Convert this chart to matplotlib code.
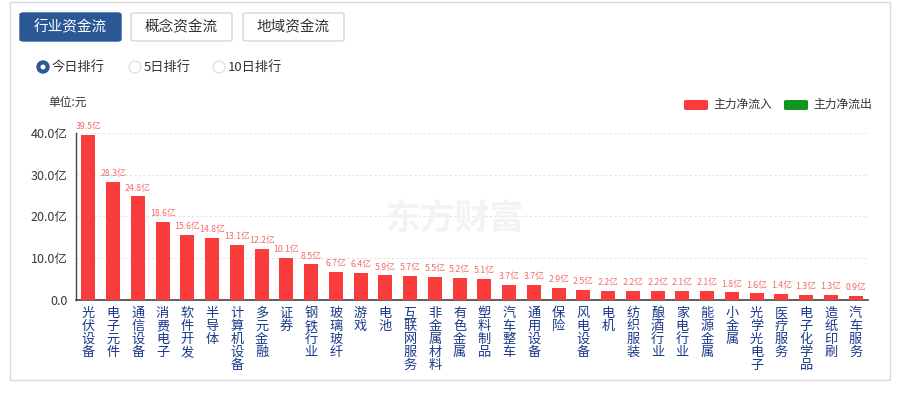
import matplotlib.pyplot as plt
from matplotlib.patches import FancyBboxPatch, Ellipse, Rectangle

plt.rcParams['font.family'] = ['Noto Sans CJK SC', 'DejaVu Sans']

industries = ['光伏设备', '电子元件', '通信设备', '消费电子', '软件开发', '半导体', '计算机设备',
              '多元金融', '证券', '钢铁行业', '玻璃玻纤', '游戏', '电池', '互联网服务',
              '非金属材料', '有色金属', '塑料制品', '汽车整车', '通用设备', '保险', '风电设备',
              '电机', '纺织服装', '酿酒行业', '家电行业', '能源金属', '小金属', '光学光电子',
              '医疗服务', '电子化学品', '造纸印刷', '汽车服务']
inflow = [39.5, 28.3, 24.8, 18.6, 15.6, 14.8, 13.1, 12.2, 10.1, 8.5, 6.7, 6.4, 5.9, 5.7,
          5.5, 5.2, 5.1, 3.7, 3.7, 2.9, 2.5, 2.2, 2.2, 2.2, 2.1, 2.1, 1.8, 1.6, 1.4, 1.3,
          1.3, 0.9]
yticks = [0, 10, 20, 30, 40]
ytick_labels = ['0.0', '10.0亿', '20.0亿', '30.0亿', '40.0亿']
tabs = ['行业资金流', '概念资金流', '地域资金流']
ranks = ['今日排行', '5日排行', '10日排行']

W, H = 912, 399
RED = '#fa3c3c'
GREEN = '#0f961e'


def fx(px):
    return px / W


def fy(py):
    return 1 - py / H


fig = plt.figure(figsize=(W / 100, H / 100), dpi=100)
fig.patch.set_facecolor('white')

# card border
fig.add_artist(Rectangle((fx(10), fy(380)), fx(880), 378 / H, transform=fig.transFigure,
                         fill=False, edgecolor='#d9d9d9', lw=1))

# tab buttons
tab_x = [20, 131, 243]
for i, (t, x0) in enumerate(zip(tabs, tab_x)):
    active = i == 0
    fig.add_artist(FancyBboxPatch((fx(x0), fy(41)), fx(101), 28 / H,
                                  boxstyle='round,pad=0,rounding_size=0.004',
                                  transform=fig.transFigure,
                                  facecolor='#2b5797' if active else 'white',
                                  edgecolor='#2b5797' if active else '#cfd6e0', lw=1))
    fig.text(fx(x0 + 50.5), fy(27), t, ha='center', va='center', fontsize=10.5,
             color='white' if active else '#333333')

# radio buttons
radio_x = [43, 135, 219]
for i, (r, x0) in enumerate(zip(ranks, radio_x)):
    if i == 0:
        fig.add_artist(Ellipse((fx(x0), fy(67)), 12 / W, 12 / H, transform=fig.transFigure,
                               facecolor='#2b5797', edgecolor='#2b5797'))
        fig.add_artist(Ellipse((fx(x0), fy(67)), 5 / W, 5 / H, transform=fig.transFigure,
                               facecolor='white', edgecolor='none'))
    else:
        fig.add_artist(Ellipse((fx(x0), fy(67)), 12 / W, 12 / H, transform=fig.transFigure,
                               facecolor='white', edgecolor='#d6dbe3', lw=0.8))
    fig.text(fx(x0 + 9), fy(67), r, ha='left', va='center', fontsize=9.5, color='#333333')

fig.text(fx(48), fy(102), '单位:元', ha='left', va='center', fontsize=8.5, color='#333333')

# legend
for x0, c, lab in [(684, RED, '主力净流入'), (784, GREEN, '主力净流出')]:
    fig.add_artist(FancyBboxPatch((fx(x0), fy(110)), fx(24), 10 / H,
                                  boxstyle='round,pad=0,rounding_size=0.003',
                                  transform=fig.transFigure, facecolor=c, edgecolor='none'))
    fig.text(fx(x0 + 29), fy(104.5), lab, ha='left', va='center', fontsize=8.5, color='#333333')

# watermark
fig.text(fx(455), fy(218), '东方财富', ha='center', va='center', fontsize=25,
         fontweight='bold', color='#f3f3f3', zorder=0)

ax = fig.add_axes([fx(76), 1 - 300 / H, fx(792), (300 - 132.7) / H])
ax.set_facecolor('none')
x = list(range(len(industries)))
ax.bar(x, inflow, width=0.57, color=RED, zorder=3)
for xi, v in zip(x, inflow):
    ax.text(xi, v + 0.9, f'{v}亿', ha='center', va='bottom', fontsize=6.3, color='#f26b6b',
            clip_on=False)

ax.set_xlim(-0.5, len(industries) - 0.5)
ax.set_ylim(0, 40)
ax.set_yticks(yticks)
ax.set_yticklabels(ytick_labels, fontsize=9, color='#3a3a3a')
ax.set_xticks(x)
ax.set_xticklabels(['\n'.join(n) for n in industries], fontsize=9.5, color='#1c3a8c',
                   linespacing=1.0, va='top')
ax.tick_params(axis='both', length=0)
ax.tick_params(axis='x', pad=5)
ax.tick_params(axis='y', pad=6)
ax.yaxis.grid(True, linestyle=(0, (2, 2)), color='#e3e3e3', lw=0.8)
ax.set_axisbelow(True)
for s in ['top', 'right']:
    ax.spines[s].set_visible(False)
ax.spines['left'].set_color('#444444')
ax.spines['bottom'].set_color('#444444')
ax.spines['left'].set_linewidth(1)
ax.spines['bottom'].set_linewidth(1.2)

fig.savefig('out.png', dpi=100)
